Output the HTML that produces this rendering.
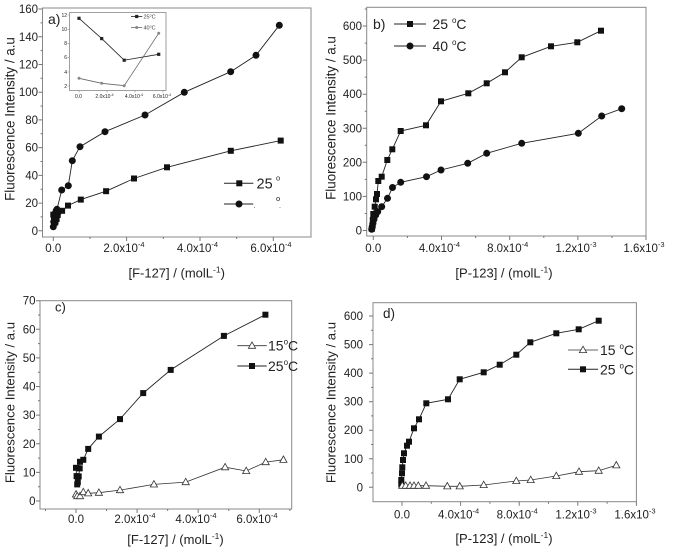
<!DOCTYPE html>
<html><head><meta charset="utf-8"><style>
html,body{margin:0;padding:0;background:#fff;}
svg{display:block;}
text{font-family:"Liberation Sans",Arial,sans-serif;fill:#222;}
</style></head><body>
<svg width="673" height="553" viewBox="0 0 673 553" xmlns="http://www.w3.org/2000/svg">
<defs>
<rect id="sq" x="-3" y="-3" width="6" height="6" fill="#111"/>
<circle id="ci" r="3.5" fill="#111"/>
<path id="tr" d="M0 -3.8L3.6 2.6L-3.6 2.6Z" fill="#fff" stroke="#333" stroke-width="0.8"/>
<rect id="sqs" x="-1.6" y="-1.6" width="3.2" height="3.2" fill="#222"/>
<circle id="cis" r="1.5" fill="#888"/>
</defs>

<!-- ================= PANEL A ================= -->
<rect x="42.5" y="8" width="268.5" height="229" fill="none" stroke="#888" stroke-width="1"/>
<path stroke="#777" stroke-width="1" fill="none" d="M42.5 230.8h-4M42.5 203.1h-4M42.5 175.4h-4M42.5 147.6h-4M42.5 119.9h-4M42.5 92.2h-4M42.5 64.5h-4M42.5 36.8h-4M42.5 9h-4
M42.5 216.9h-2M42.5 189.2h-2M42.5 161.5h-2M42.5 133.8h-2M42.5 106.1h-2M42.5 78.3h-2M42.5 50.6h-2M42.5 22.9h-2
M53.3 237v4M126.6 237v4M200 237v4M273.3 237v4M90 237v2M163.3 237v2M236.7 237v2"/>
<g font-size="11.5" text-anchor="end">
<text x="38" y="234.8">0</text><text x="38" y="207.1">20</text><text x="38" y="179.4">40</text><text x="38" y="151.6">60</text><text x="38" y="123.9">80</text><text x="38" y="96.2">100</text><text x="38" y="68.5">120</text><text x="38" y="40.8">140</text><text x="38" y="13">160</text>
</g>
<g font-size="11.5" text-anchor="middle">
<text x="53.3" y="252">0.0</text>
<text x="124" y="252">2.0x10<tspan font-size="7.5" dy="-5">-4</tspan></text>
<text x="197.5" y="252">4.0x10<tspan font-size="7.5" dy="-5">-4</tspan></text>
<text x="271" y="252">6.0x10<tspan font-size="7.5" dy="-5">-4</tspan></text>
</g>
<text x="176.7" y="277.5" font-size="13" text-anchor="middle">[F-127] / (molL<tspan font-size="8.5" dy="-5">-1</tspan><tspan dy="5">)</tspan></text>
<text transform="translate(14.5,119) rotate(-90)" font-size="13.4" text-anchor="middle">Fluorescence Intensity / a.u</text>
<text x="48" y="24" font-size="14">a)</text>

<!-- series a 25C -->
<polyline fill="none" stroke="#222" stroke-width="0.9" points="53.3,214.7 54,218.7 54.8,222.8 55.5,221.7 56.6,218.9 57.7,215 58.1,211.8 62.1,210.8 68,205.6 80.8,199.6 106.1,191.2 134,178.5 167,167.3 230.8,150.8 280.7,140.6"/>
<g>
<use href="#sq" x="53.3" y="214.7"/><use href="#sq" x="54" y="218.7"/><use href="#sq" x="54.8" y="222.8"/><use href="#sq" x="55.5" y="221.7"/><use href="#sq" x="56.6" y="218.9"/><use href="#sq" x="57.7" y="215"/><use href="#sq" x="58.1" y="211.8"/><use href="#sq" x="62.1" y="210.8"/><use href="#sq" x="68" y="205.6"/><use href="#sq" x="80.8" y="199.6"/><use href="#sq" x="106.1" y="191.2"/><use href="#sq" x="134" y="178.5"/><use href="#sq" x="167" y="167.3"/><use href="#sq" x="230.8" y="150.8"/><use href="#sq" x="280.7" y="140.6"/>
</g>
<!-- series a 40C -->
<polyline fill="none" stroke="#222" stroke-width="0.9" points="53.3,226.8 53.7,221.8 54.4,216.9 55.1,213.5 56.2,210.7 57,209.3 61.7,190 68.3,185.7 72.3,160.7 80,146.7 105,131.7 145,115 184.3,92.3 230.7,71.7 256,55.3 279.3,25.3"/>
<g>
<use href="#ci" x="53.3" y="226.8"/><use href="#ci" x="53.7" y="221.8"/><use href="#ci" x="54.4" y="216.9"/><use href="#ci" x="55.1" y="213.5"/><use href="#ci" x="56.2" y="210.7"/><use href="#ci" x="57" y="209.3"/><use href="#ci" x="61.7" y="190"/><use href="#ci" x="68.3" y="185.7"/><use href="#ci" x="72.3" y="160.7"/><use href="#ci" x="80" y="146.7"/><use href="#ci" x="105" y="131.7"/><use href="#ci" x="145" y="115"/><use href="#ci" x="184.3" y="92.3"/><use href="#ci" x="230.7" y="71.7"/><use href="#ci" x="256" y="55.3"/><use href="#ci" x="279.3" y="25.3"/>
</g>
<!-- legend a -->
<path d="M224 183.3H253.3M224 204H253.3" stroke="#222" stroke-width="1"/>
<use href="#sq" x="239.3" y="183.3"/><use href="#ci" x="239" y="204"/>
<text x="256.5" y="188.5" font-size="14.5">25</text>
<text x="276" y="180.5" font-size="7.5">o</text>
<text x="276" y="201" font-size="7.5">o</text>
<rect x="254" y="207" width="1" height="1" fill="#999"/><rect x="279.5" y="207" width="1" height="1" fill="#999"/>

<!-- inset -->
<rect x="69.5" y="12.5" width="96.5" height="78" fill="#fff" stroke="#888" stroke-width="0.8"/>
<path stroke="#888" stroke-width="0.6" d="M69.5 15h-2M69.5 29.3h-2M69.5 43.3h-2M69.5 57.3h-2M69.5 72h-2M69.5 86h-2M79 90.5v2M107 90.5v2M135 90.5v2M163 90.5v2"/>
<g font-size="5" text-anchor="end" style="fill:#444">
<text x="67" y="16.8">12</text><text x="67" y="31.1">10</text><text x="67" y="45.1">8</text><text x="67" y="59.1">6</text><text x="67" y="73.8">4</text><text x="67" y="87.8">2</text>
</g>
<g font-size="5" text-anchor="middle" style="fill:#444">
<text x="78.5" y="98">0.0</text>
<text x="104.5" y="98">2.0x10<tspan font-size="3.5" dy="-2">-4</tspan></text>
<text x="134" y="98">4.0x10<tspan font-size="3.5" dy="-2">-4</tspan></text>
<text x="162" y="98">6.0x10<tspan font-size="3.5" dy="-2">-4</tspan></text>
</g>
<polyline fill="none" stroke="#222" stroke-width="0.8" points="79,18.3 101.7,38.6 124.2,60.2 158.7,54.3"/>
<use href="#sqs" x="79" y="18.3"/><use href="#sqs" x="101.7" y="38.6"/><use href="#sqs" x="124.2" y="60.2"/><use href="#sqs" x="158.7" y="54.3"/>
<polyline fill="none" stroke="#666" stroke-width="0.8" points="79,78.3 101.7,83.3 124.2,85.7 158.7,33.3"/>
<use href="#cis" x="79" y="78.3"/><use href="#cis" x="101.7" y="83.3"/><use href="#cis" x="124.2" y="85.7"/><use href="#cis" x="158.7" y="33.3"/>
<path d="M131 16.5H142.3" stroke="#222" stroke-width="0.8"/><use href="#sqs" x="136.7" y="16.5"/>
<path d="M131 27.5H142.3" stroke="#666" stroke-width="0.8"/><use href="#cis" x="136.7" y="27.5"/>
<text x="143.5" y="18.5" font-size="5.5" style="fill:#444">25<tspan font-size="3.5" dy="-2">o</tspan><tspan dy="2">C</tspan></text>
<text x="143.5" y="29.5" font-size="5.5" style="fill:#444">40<tspan font-size="3.5" dy="-2">o</tspan><tspan dy="2">C</tspan></text>

<!-- ================= PANEL B ================= -->
<rect x="366.7" y="7.3" width="279.3" height="228.7" fill="none" stroke="#888" stroke-width="1"/>
<path stroke="#777" stroke-width="1" fill="none" d="M366.7 230.5h-4M366.7 196.4h-4M366.7 162.3h-4M366.7 128.3h-4M366.7 94.2h-4M366.7 60.1h-4M366.7 26h-4
M366.7 213.5h-2M366.7 179.4h-2M366.7 145.3h-2M366.7 111.2h-2M366.7 77.1h-2M366.7 43.1h-2M366.7 9h-2
M373.3 236v4M441.5 236v4M509.7 236v4M577.9 236v4M646 236v4M407.4 236v2M475.6 236v2M543.8 236v2M612 236v2"/>
<g font-size="11.5" text-anchor="end">
<text x="362" y="234.5">0</text><text x="362" y="200.4">100</text><text x="362" y="166.3">200</text><text x="362" y="132.3">300</text><text x="362" y="98.2">400</text><text x="362" y="64.1">500</text><text x="362" y="30">600</text>
</g>
<g font-size="11.5" text-anchor="middle">
<text x="373.3" y="252">0.0</text>
<text x="439.5" y="252">4.0x10<tspan font-size="7.5" dy="-5">-4</tspan></text>
<text x="507.7" y="252">8.0x10<tspan font-size="7.5" dy="-5">-4</tspan></text>
<text x="576" y="252">1.2x10<tspan font-size="7.5" dy="-5">-3</tspan></text>
<text x="644" y="252">1.6x10<tspan font-size="7.5" dy="-5">-3</tspan></text>
</g>
<text x="504" y="277.5" font-size="13" text-anchor="middle">[P-123] / (molL<tspan font-size="8.5" dy="-5">-1</tspan><tspan dy="5">)</tspan></text>
<text transform="translate(335.5,118) rotate(-90)" font-size="13.4" text-anchor="middle">Fluorescence Intensity / a.u</text>
<text x="373" y="29" font-size="14">b)</text>

<polyline fill="none" stroke="#222" stroke-width="0.9" points="371.8,228.8 372.3,226 372.8,220 373.3,214 374.7,206.7 376,199.3 377,194 378.3,181 381.7,176.7 387.3,160 392.3,149.3 400.7,131 426,125.3 441,101.3 468.3,93.3 486.7,83.3 505,72.3 521.7,57.3 551,46.3 577.3,42.3 601,30.7"/>
<g>
<use href="#sq" x="371.8" y="228.8"/><use href="#sq" x="372.3" y="226"/><use href="#sq" x="372.8" y="220"/><use href="#sq" x="373.3" y="214"/><use href="#sq" x="374.7" y="206.7"/><use href="#sq" x="376" y="199.3"/><use href="#sq" x="377" y="194"/><use href="#sq" x="378.3" y="181"/><use href="#sq" x="381.7" y="176.7"/><use href="#sq" x="387.3" y="160"/><use href="#sq" x="392.3" y="149.3"/><use href="#sq" x="400.7" y="131"/><use href="#sq" x="426" y="125.3"/><use href="#sq" x="441" y="101.3"/><use href="#sq" x="468.3" y="93.3"/><use href="#sq" x="486.7" y="83.3"/><use href="#sq" x="505" y="72.3"/><use href="#sq" x="521.7" y="57.3"/><use href="#sq" x="551" y="46.3"/><use href="#sq" x="577.3" y="42.3"/><use href="#sq" x="601" y="30.7"/>
</g>
<polyline fill="none" stroke="#222" stroke-width="0.9" points="371.7,229.3 372.3,226.7 373,223.3 374,219.3 375.7,215 377.7,211.7 381.7,206.7 387.5,198.3 392.5,187.5 400.7,182.3 426.5,176.7 441,170 467.7,163.3 486.7,153.3 521.7,143.3 578.3,133.3 601.7,116 621.7,108.7"/>
<g>
<use href="#ci" x="371.7" y="229.3"/><use href="#ci" x="372.3" y="226.7"/><use href="#ci" x="373" y="223.3"/><use href="#ci" x="374" y="219.3"/><use href="#ci" x="375.7" y="215"/><use href="#ci" x="377.7" y="211.7"/><use href="#ci" x="381.7" y="206.7"/><use href="#ci" x="387.5" y="198.3"/><use href="#ci" x="392.5" y="187.5"/><use href="#ci" x="400.7" y="182.3"/><use href="#ci" x="426.5" y="176.7"/><use href="#ci" x="441" y="170"/><use href="#ci" x="467.7" y="163.3"/><use href="#ci" x="486.7" y="153.3"/><use href="#ci" x="521.7" y="143.3"/><use href="#ci" x="578.3" y="133.3"/><use href="#ci" x="601.7" y="116"/><use href="#ci" x="621.7" y="108.7"/>
</g>
<path d="M394 24H426M394 46H426" stroke="#222" stroke-width="1"/>
<use href="#sq" x="410" y="24"/><use href="#ci" x="410" y="46"/>
<text x="432.5" y="29" font-size="14">25 <tspan font-size="8" dy="-6">o</tspan><tspan dy="6">C</tspan></text>
<text x="432.5" y="51" font-size="14">40 <tspan font-size="8" dy="-6">o</tspan><tspan dy="6">C</tspan></text>

<!-- ================= PANEL C ================= -->
<rect x="40" y="300.7" width="251.7" height="208.3" fill="none" stroke="#888" stroke-width="1"/>
<path stroke="#777" stroke-width="1" fill="none" d="M40 501h-4M40 472.4h-4M40 443.8h-4M40 415.1h-4M40 386.5h-4M40 357.9h-4M40 329.3h-4M40 300.7h-4
M40 486.7h-2M40 458.1h-2M40 429.5h-2M40 400.8h-2M40 372.2h-2M40 343.6h-2M40 315h-2
M76 509v4M137.1 509v4M198.2 509v4M259.3 509v4M45.45 509v2M106.55 509v2M167.65 509v2M228.75 509v2M289.85 509v2"/>
<g font-size="11.5" text-anchor="end">
<text x="35.5" y="505">0</text><text x="35.5" y="476.4">10</text><text x="35.5" y="447.8">20</text><text x="35.5" y="419.1">30</text><text x="35.5" y="390.5">40</text><text x="35.5" y="361.9">50</text><text x="35.5" y="333.3">60</text><text x="35.5" y="304.7">70</text>
</g>
<g font-size="11.5" text-anchor="middle">
<text x="76" y="523">0.0</text>
<text x="135" y="523">2.0x10<tspan font-size="7.5" dy="-5">-4</tspan></text>
<text x="196" y="523">4.0x10<tspan font-size="7.5" dy="-5">-4</tspan></text>
<text x="257" y="523">6.0x10<tspan font-size="7.5" dy="-5">-4</tspan></text>
</g>
<text x="175.5" y="544" font-size="13" text-anchor="middle">[F-127] / (molL<tspan font-size="8.5" dy="-5">-1</tspan><tspan dy="5">)</tspan></text>
<text transform="translate(14.5,402.5) rotate(-90)" font-size="13.2" text-anchor="middle">Fluorescence Intensity / a.u</text>
<text x="55" y="311.5" font-size="13">c)</text>

<polyline fill="none" stroke="#222" stroke-width="0.9" points="76,467.8 76.6,476.1 77.2,484.4 77.8,482.1 78.7,476.4 79.7,468.4 80,461.8 83.3,459.8 88.2,448.9 98.9,436.6 120,419.1 143.2,393.1 170.7,369.9 223.9,335.9 265.4,314.7"/>
<g>
<use href="#sq" x="76" y="467.8"/><use href="#sq" x="76.6" y="476.1"/><use href="#sq" x="77.2" y="484.4"/><use href="#sq" x="77.8" y="482.1"/><use href="#sq" x="78.7" y="476.4"/><use href="#sq" x="79.7" y="468.4"/><use href="#sq" x="80" y="461.8"/><use href="#sq" x="83.3" y="459.8"/><use href="#sq" x="88.2" y="448.9"/><use href="#sq" x="98.9" y="436.6"/><use href="#sq" x="120" y="419.1"/><use href="#sq" x="143.2" y="393.1"/><use href="#sq" x="170.7" y="369.9"/><use href="#sq" x="223.9" y="335.9"/><use href="#sq" x="265.4" y="314.7"/>
</g>
<polyline fill="none" stroke="#333" stroke-width="0.8" points="76,494.4 77.2,496.1 80,496.1 83.3,492.1 88.2,493.3 98.9,492.7 120,490.1 153.9,484.4 185.7,482.1 225.1,467.2 246.2,471 265.7,462.1 283.4,459.8"/>
<g>
<use href="#tr" x="76" y="494.4"/><use href="#tr" x="77.2" y="496.1"/><use href="#tr" x="80" y="496.1"/><use href="#tr" x="83.3" y="492.1"/><use href="#tr" x="88.2" y="493.3"/><use href="#tr" x="98.9" y="492.7"/><use href="#tr" x="120" y="490.1"/><use href="#tr" x="153.9" y="484.4"/><use href="#tr" x="185.7" y="482.1"/><use href="#tr" x="225.1" y="467.2"/><use href="#tr" x="246.2" y="471"/><use href="#tr" x="265.7" y="462.1"/><use href="#tr" x="283.4" y="459.8"/>
</g>
<path d="M237.3 345.7H266.7" stroke="#333" stroke-width="0.8"/><use href="#tr" x="252" y="345.7"/>
<path d="M237.3 366H266.7" stroke="#222" stroke-width="1"/><use href="#sq" x="252" y="366"/>
<text x="268" y="350.5" font-size="14">15<tspan font-size="8" dy="-6">o</tspan><tspan dy="6">C</tspan></text>
<text x="268" y="371" font-size="14">25<tspan font-size="8" dy="-6">o</tspan><tspan dy="6">C</tspan></text>

<!-- ================= PANEL D ================= -->
<rect x="373" y="302.7" width="263.4" height="199" fill="none" stroke="#888" stroke-width="1"/>
<path stroke="#777" stroke-width="1" fill="none" d="M373 487.3h-4M373 458.8h-4M373 430.2h-4M373 401.7h-4M373 373.1h-4M373 344.6h-4M373 316h-4
M373 473h-2M373 444.5h-2M373 415.9h-2M373 387.4h-2M373 358.8h-2M373 330.3h-2
M402 501.7v4M460.6 501.7v4M519.2 501.7v4M577.8 501.7v4M636.4 501.7v4M431.3 501.7v2M489.9 501.7v2M548.5 501.7v2M607.1 501.7v2"/>
<g font-size="11.5" text-anchor="end">
<text x="363" y="491.3">0</text><text x="363" y="462.8">100</text><text x="363" y="434.2">200</text><text x="363" y="405.7">300</text><text x="363" y="377.1">400</text><text x="363" y="348.6">500</text><text x="363" y="320">600</text>
</g>
<g font-size="11.5" text-anchor="middle">
<text x="402" y="518.5">0.0</text>
<text x="458.6" y="518.5">4.0x10<tspan font-size="7.5" dy="-5">-4</tspan></text>
<text x="517.2" y="518.5">8.0x10<tspan font-size="7.5" dy="-5">-4</tspan></text>
<text x="576" y="518.5">1.2x10<tspan font-size="7.5" dy="-5">-3</tspan></text>
<text x="635" y="518.5">1.6x10<tspan font-size="7.5" dy="-5">-3</tspan></text>
</g>
<text x="504" y="543" font-size="13" text-anchor="middle">[P-123] / (molL<tspan font-size="8.5" dy="-5">-1</tspan><tspan dy="5">)</tspan></text>
<text transform="translate(335.5,402.5) rotate(-90)" font-size="13.2" text-anchor="middle">Fluorescence Intensity / a.u</text>
<text x="383" y="318" font-size="13.5">d)</text>

<polyline fill="none" stroke="#222" stroke-width="0.9" points="401.3,484.3 401.3,480 402,473.3 402.3,467.3 403,460 404,453.3 407,445.7 409,441.7 414,428.3 419,419.3 426.3,403.3 448,399.3 459.7,379.3 483.7,372.3 499.7,364.7 516.3,354.7 530.3,342.3 556.3,333.3 578.7,329.3 598.7,320.7"/>
<g>
<use href="#sq" x="401.3" y="484.3"/><use href="#sq" x="401.3" y="480"/><use href="#sq" x="402" y="473.3"/><use href="#sq" x="402.3" y="467.3"/><use href="#sq" x="403" y="460"/><use href="#sq" x="404" y="453.3"/><use href="#sq" x="407" y="445.7"/><use href="#sq" x="409" y="441.7"/><use href="#sq" x="414" y="428.3"/><use href="#sq" x="419" y="419.3"/><use href="#sq" x="426.3" y="403.3"/><use href="#sq" x="448" y="399.3"/><use href="#sq" x="459.7" y="379.3"/><use href="#sq" x="483.7" y="372.3"/><use href="#sq" x="499.7" y="364.7"/><use href="#sq" x="516.3" y="354.7"/><use href="#sq" x="530.3" y="342.3"/><use href="#sq" x="556.3" y="333.3"/><use href="#sq" x="578.7" y="329.3"/><use href="#sq" x="598.7" y="320.7"/>
</g>
<polyline fill="none" stroke="#333" stroke-width="0.8" points="402.3,485.7 405.7,485.7 410,485.7 414,485.7 418.3,485.7 426,485.7 447.3,486.3 459.7,486.3 483.7,485 516.3,481 530.7,480 556.3,476 579,471.7 598.7,470.7 616.3,465.3"/>
<g>
<use href="#tr" x="402.3" y="485.7"/><use href="#tr" x="405.7" y="485.7"/><use href="#tr" x="410" y="485.7"/><use href="#tr" x="414" y="485.7"/><use href="#tr" x="418.3" y="485.7"/><use href="#tr" x="426" y="485.7"/><use href="#tr" x="447.3" y="486.3"/><use href="#tr" x="459.7" y="486.3"/><use href="#tr" x="483.7" y="485"/><use href="#tr" x="516.3" y="481"/><use href="#tr" x="530.7" y="480"/><use href="#tr" x="556.3" y="476"/><use href="#tr" x="579" y="471.7"/><use href="#tr" x="598.7" y="470.7"/><use href="#tr" x="616.3" y="465.3"/>
</g>
<path d="M568 350H598" stroke="#333" stroke-width="0.8"/><use href="#tr" x="583" y="350"/>
<path d="M568 369.3H598" stroke="#222" stroke-width="1"/><use href="#sq" x="583" y="369.3"/>
<text x="600" y="355" font-size="14">15 <tspan font-size="8" dy="-6">o</tspan><tspan dy="6">C</tspan></text>
<text x="600" y="374.3" font-size="14">25 <tspan font-size="8" dy="-6">o</tspan><tspan dy="6">C</tspan></text>
</svg>
</body></html>
